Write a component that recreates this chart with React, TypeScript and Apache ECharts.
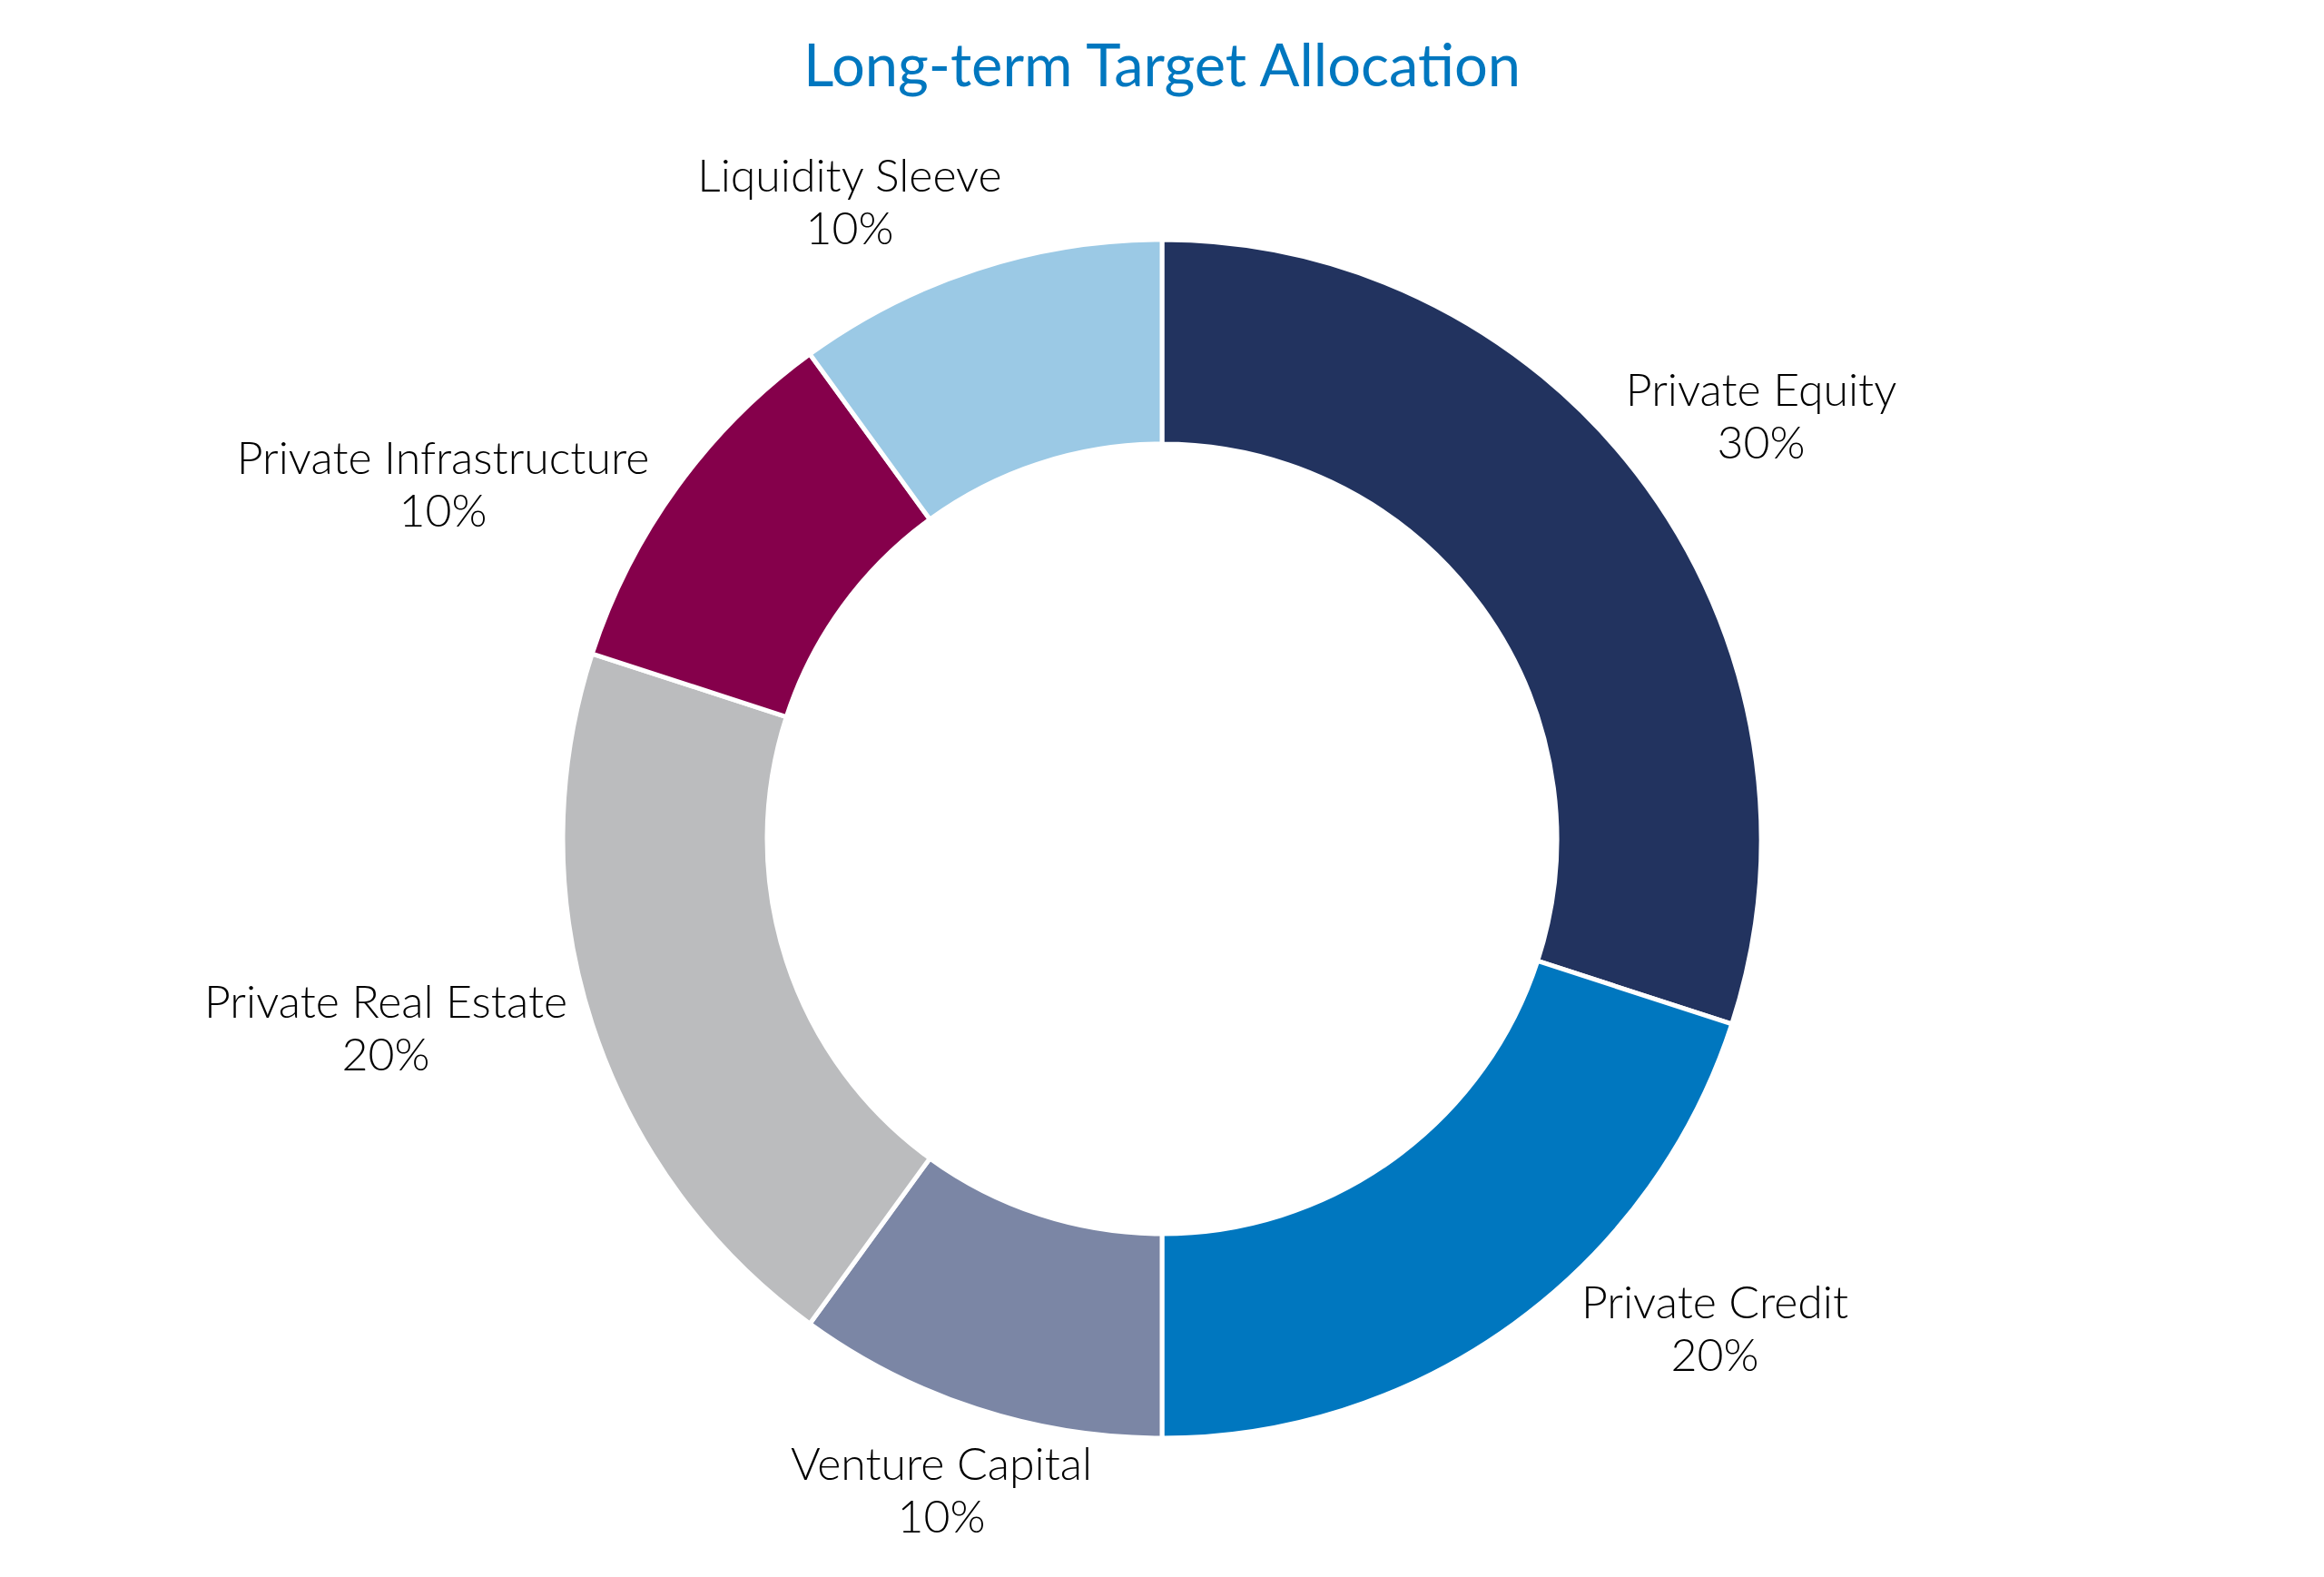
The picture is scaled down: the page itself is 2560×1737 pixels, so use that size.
import React, { useEffect, useRef } from "react";
import * as echarts from "echarts";

const categories = [
  "Private Equity",
  "Private Credit",
  "Venture Capital",
  "Private Real Estate",
  "Private Infrastructure",
  "Liquidity Sleeve",
];
const values = [30, 20, 10, 20, 10, 10];
const colors = ["#22335F", "#0077BF", "#7B86A5", "#BBBCBE", "#85004B", "#9BC9E5"];
// label block centres (px) in the 2560x1737 chart
const labelAnchors = [
  [1940, 457],
  [1889, 1462],
  [1037, 1640],
  [425, 1131],
  [488, 532],
  [936, 221],
];

const FONT = "Lato, 'Noto Sans', sans-serif";

export default function App() {
  const ref = useRef<HTMLDivElement>(null);
  useEffect(() => {
    document.body.style.margin = "0";
    const chart = echarts.init(ref.current!, null, { renderer: "svg" });
    chart.setOption({
      animation: false,
      backgroundColor: "#ffffff",
      title: {
        text: "Long-term Target Allocation",
        left: "center",
        top: 32,
        textStyle: { color: "#0077BF", fontSize: 65, fontWeight: "normal", fontFamily: FONT },
      },
      series: [
        {
          type: "pie",
          center: ["50%", 924],
          radius: [435, 660],
          startAngle: 90,
          clockwise: true,
          avoidLabelOverlap: false,
          itemStyle: { borderColor: "#ffffff", borderWidth: 5 },
          label: {
            show: true,
            position: "outside",
            formatter: (p: any) => `${p.name}\n${p.value}%`,
            color: "#000000",
            fontSize: 50,
            fontWeight: 300,
            lineHeight: 58,
            fontFamily: FONT,
            align: "center",
          },
          labelLine: { show: false },
          labelLayout: (p: any) => ({
            x: labelAnchors[p.dataIndex][0],
            y: labelAnchors[p.dataIndex][1],
            align: "center",
            verticalAlign: "middle",
          }),
          emphasis: { disabled: true },
          data: categories.map((name, i) => ({
            name,
            value: values[i],
            itemStyle: { color: colors[i] },
          })),
        },
      ],
    });
    return () => chart.dispose();
  }, []);
  return <div ref={ref} style={{ width: 2560, height: 1737 }} />;
}
